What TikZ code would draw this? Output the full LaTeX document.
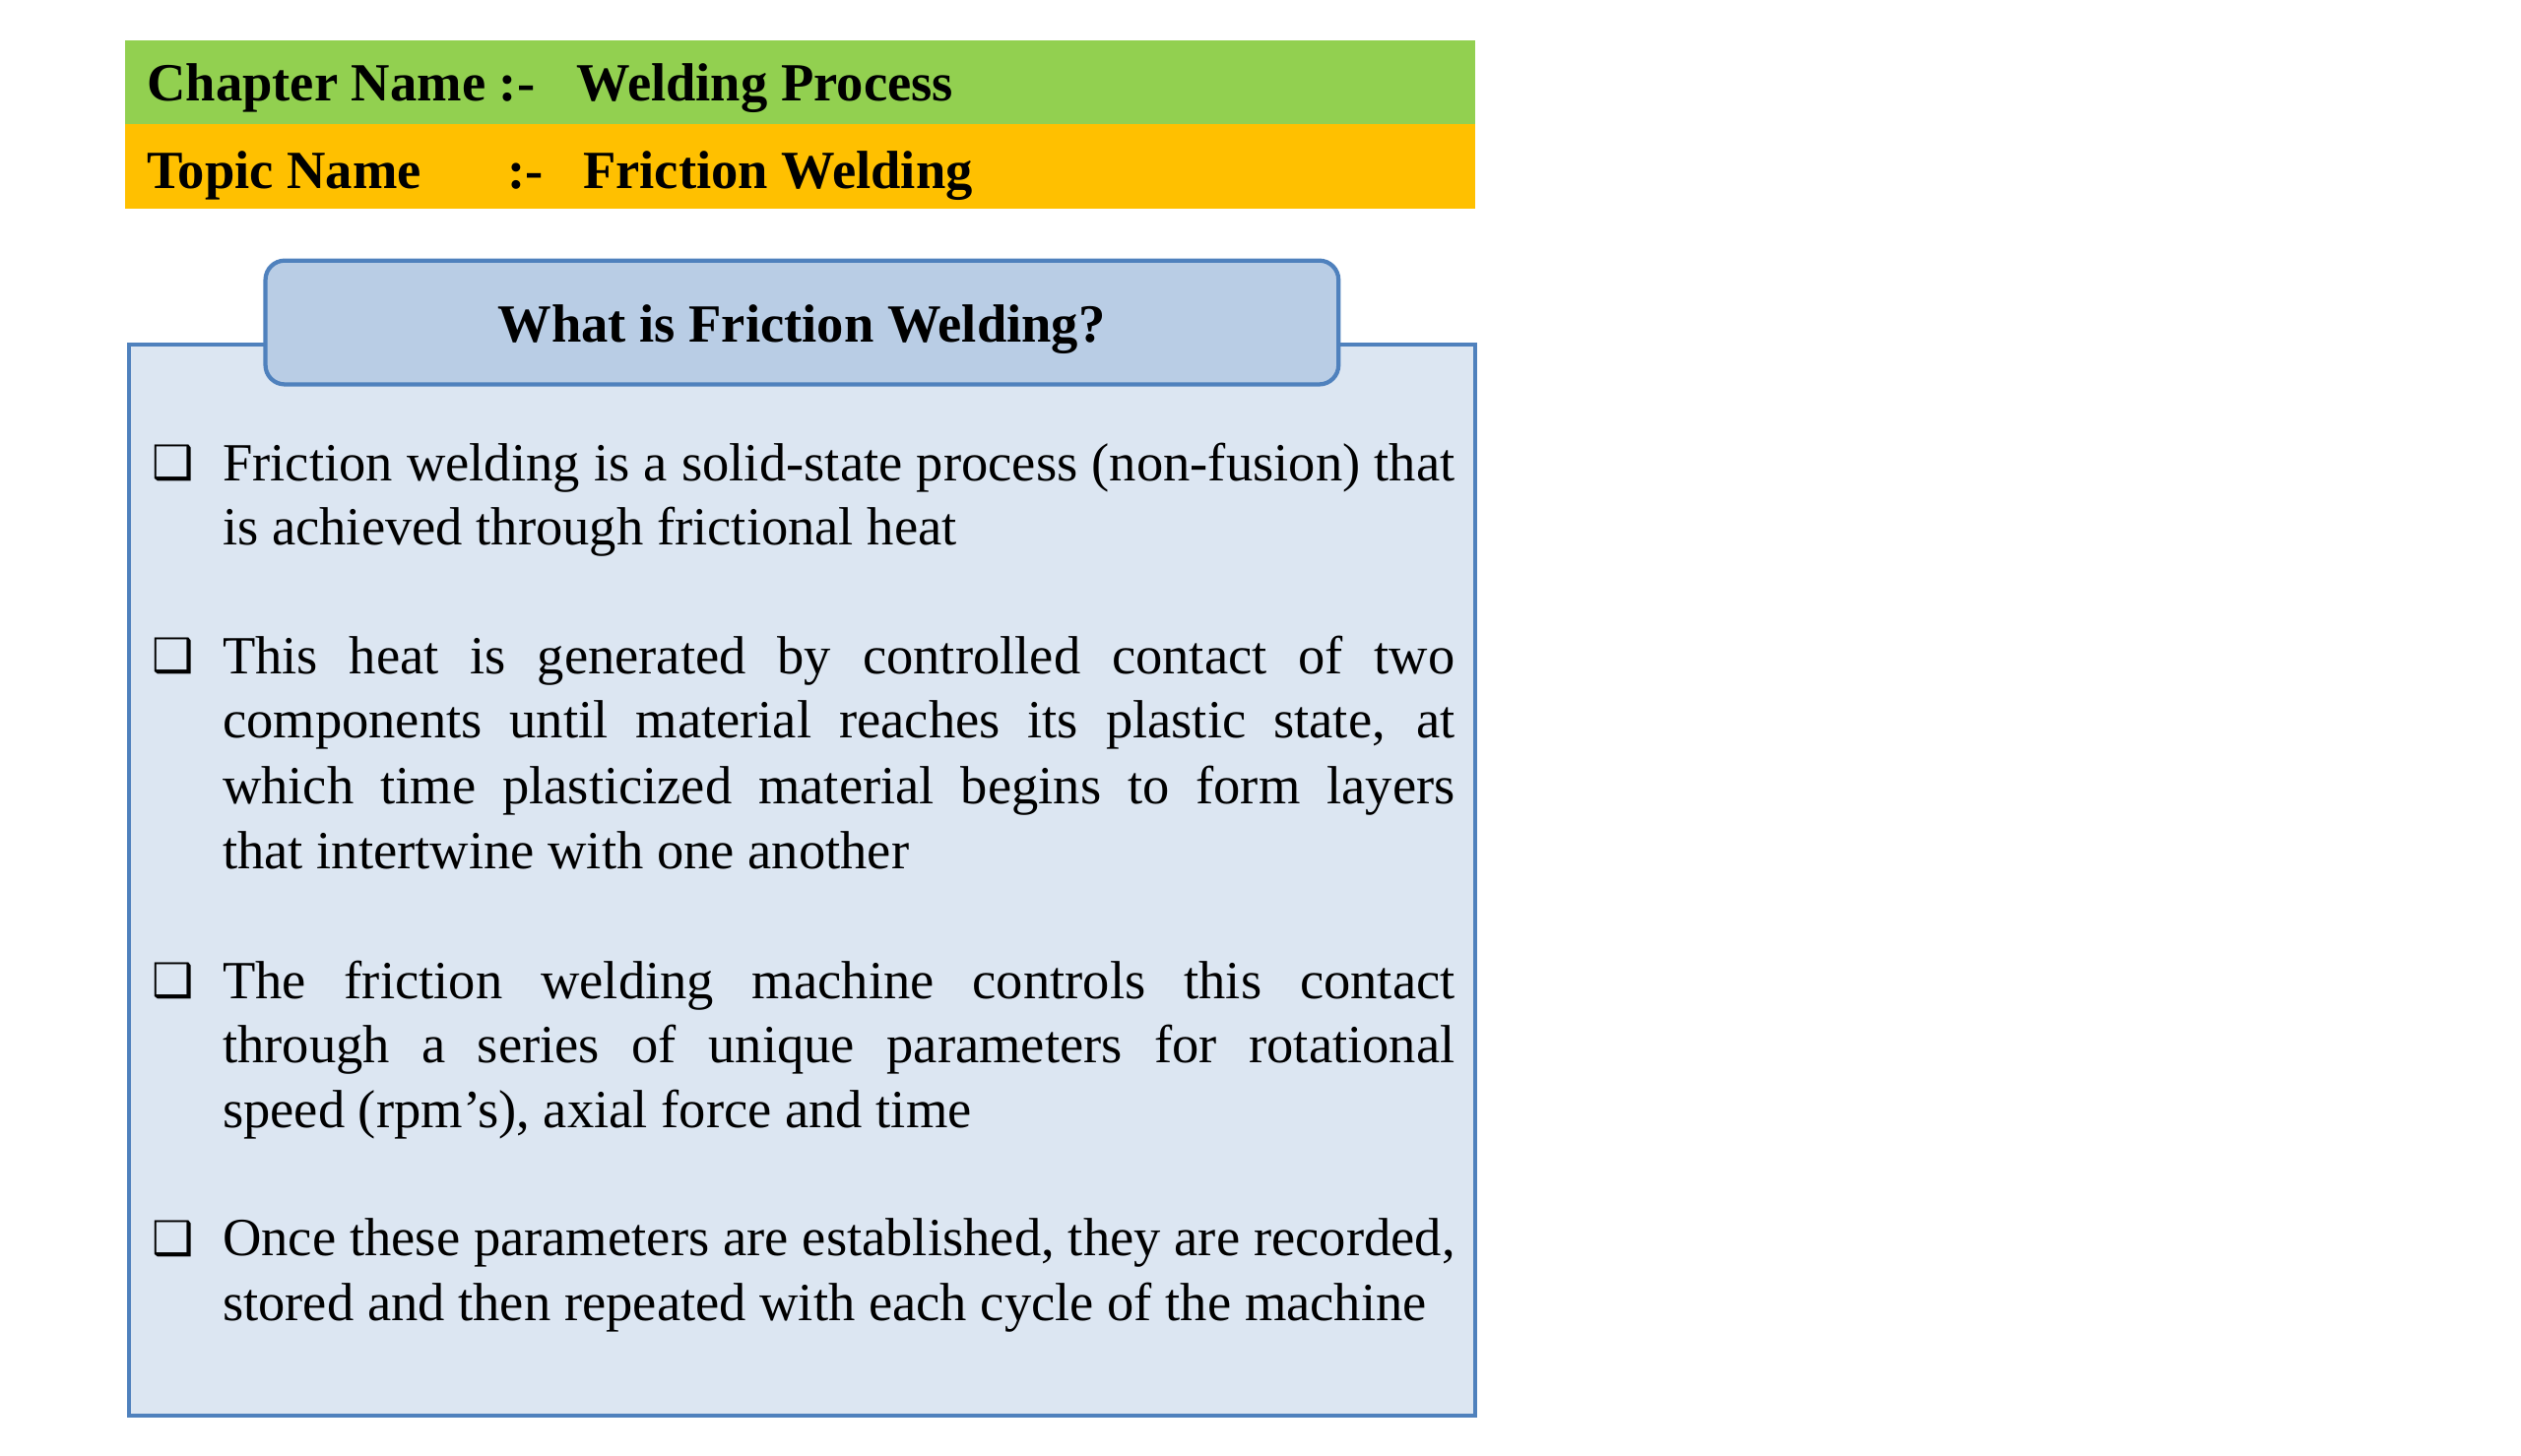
\documentclass[tikz,border=0pt]{standalone}
\usepackage{fontspec}
\setmainfont{Liberation Serif}
\newfontfamily\symfont{DejaVu Sans}
\definecolor{hgreen}{HTML}{92D050}
\definecolor{horange}{HTML}{FFC000}
\definecolor{tabfill}{HTML}{B9CDE5}
\definecolor{boxfill}{HTML}{DCE6F2}
\definecolor{boxline}{HTML}{4F81BD}
\newcommand\jline[1]{\makebox[383pt][s]{#1}}
\tikzset{
  txt/.style={anchor=base west, inner sep=0pt, font=\fontsize{16.7}{20}\selectfont},
  hdr/.style={anchor=base west, inner sep=0pt, font=\fontsize{16.7}{20}\selectfont\bfseries},
  bul/.style={anchor=base west, inner sep=0pt, font=\fontsize{14.5}{20}\selectfont\symfont},
}
\begin{document}
\begin{tikzpicture}[x=0.5pt,y=-0.5pt]
\useasboundingbox (0,0) rectangle (1567,904.7);
% header bars
\fill[hgreen] (78,25) rectangle (917,77);
\fill[horange] (78,77) rectangle (917,130);
\node[hdr] (chl) at (91,63) {Chapter Name :-};
\node[hdr] (chv) at (358,63) {Welding Process};
\node[hdr] (tpl) at (91,117) {Topic Name};
\node[hdr] (tpc) at (315,117) {:-};
\node[hdr] (tpv) at (362,117) {Friction Welding};
% main box
\draw[boxline, fill=boxfill, line width=1.2pt] (80,214) rectangle (917,880);
% title tab
\draw[boxline, fill=tabfill, line width=1.3pt, rounded corners=6pt] (165,162) rectangle (832,239);
\node[hdr] (title) at (309,213) {What is Friction Welding?};
% bullets
\node[bul] (b1) at (94,298) {❑};
\node[txt] (l11) at (138,299) {\jline{Friction welding is a solid-state process (non-fusion) that}};
\node[txt] (l12) at (138,339) {is achieved through frictional heat};
\node[bul] (b2) at (94,418) {❑};
\node[txt] (l21) at (138,419) {\jline{This heat is generated by controlled contact of two}};
\node[txt] (l22) at (138,459) {\jline{components until material reaches its plastic state, at}};
\node[txt] (l23) at (138,500) {\jline{which time plasticized material begins to form layers}};
\node[txt] (l24) at (138,540) {that intertwine with one another};
\node[bul] (b3) at (94,620) {❑};
\node[txt] (l31) at (138,621) {\jline{The friction welding machine controls this contact}};
\node[txt] (l32) at (138,661) {\jline{through a series of unique parameters for rotational}};
\node[txt] (l33) at (138,701) {speed (rpm’s), axial force and time};
\node[bul] (b4) at (94,780) {❑};
\node[txt] (l41) at (138,781) {\jline{Once these parameters are established, they are recorded,}};
\node[txt] (l42) at (138,821) {stored and then repeated with each cycle of the machine};
\end{tikzpicture}
\end{document}
